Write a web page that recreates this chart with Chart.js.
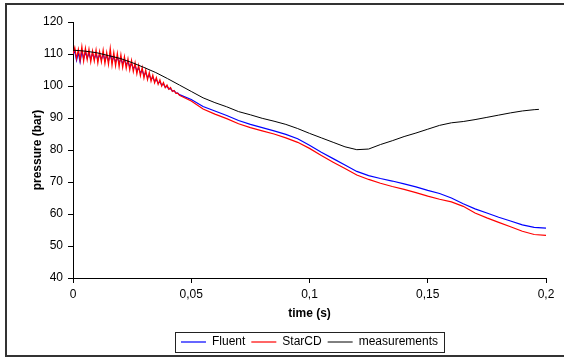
<!DOCTYPE html>
<html>
<head>
<meta charset="utf-8">
<script src="https://cdn.jsdelivr.net/npm/chart.js@4.4.1/dist/chart.umd.min.js"></script>
<style>
    html, body { margin: 0; padding: 0; background: #fff; }
    #wrap { width: 564px; height: 358px; }
</style>
</head>
<body>
<div id="wrap"><canvas id="grafik" width="564" height="358"></canvas></div>
<script>
// waktu simulasi (s)
const simTime = [0, 0.00075, 0.0015, 0.00225, 0.003, 0.00375, 0.0045, 0.00525, 0.006, 0.00675,
    0.0075, 0.00825, 0.009, 0.00975, 0.0105, 0.01125, 0.012, 0.01275, 0.0135, 0.01425,
    0.015, 0.01575, 0.0165, 0.01725, 0.018, 0.01875, 0.0195, 0.02025, 0.021, 0.02175,
    0.0225, 0.02325, 0.024, 0.02475, 0.0255, 0.02625, 0.027, 0.02775, 0.0285, 0.02925,
    0.03, 0.03075, 0.0315, 0.03225, 0.033, 0.03375, 0.0345, 0.03525, 0.036, 0.03675,
    0.0375, 0.03825, 0.039, 0.03975, 0.0405, 0.04125, 0.042, 0.04275, 0.0435, 0.04425, 0.045,
    0.05, 0.055, 0.06, 0.065, 0.07, 0.075, 0.08, 0.085, 0.09, 0.095,
    0.1, 0.105, 0.11, 0.115, 0.12, 0.125, 0.13, 0.135, 0.14, 0.145,
    0.15, 0.155, 0.16, 0.165, 0.17, 0.175, 0.18, 0.185, 0.19, 0.195, 0.2];

const fluent = [110, 110.8, 108, 110.5, 107.5, 110.8, 108.6, 110.5, 108.7, 110.3,
    108.4, 110.2, 108.5, 110, 108.2, 109.8, 108.3, 110, 108, 109.6,
    107.8, 109.8, 107.6, 109.3, 107.4, 109, 107.2, 108.6, 107, 108.2,
    106.6, 107.6, 106, 107, 105.4, 106.3, 104.8, 105.6, 104.1, 104.9,
    103.4, 104.1, 102.7, 103.4, 102.1, 102.7, 101.5, 102, 100.9, 101.3,
    100.3, 100.6, 99.7, 99.9, 99.1, 99.2, 98.5, 98.5, 97.9, 97.8, 97.3,
    95.8, 93.6, 92.2, 90.8, 89.2, 88.0, 87.0, 86.0, 84.9, 83.5,
    81.5, 79.3, 77.3, 75.3, 73.3, 72.0, 71.1, 70.3, 69.4, 68.5,
    67.4, 66.4, 65.0, 63.2, 61.6, 60.3, 59.0, 57.8, 56.6, 55.8, 55.6];

const starcd = [110, 112, 108.5, 111.5, 108, 112.3, 107.8, 111.8, 108.2, 111.5,
    107.5, 111, 107.8, 111.3, 107.2, 110.8, 107.5, 111.2, 107, 110.5,
    106.8, 111.8, 106.5, 110.5, 106.3, 110.2, 106, 109.8, 105.8, 109.2,
    105.5, 108.5, 105, 108, 104.5, 107.3, 103.8, 106.5, 103.2, 105.8,
    102.5, 105, 102, 104.2, 101.5, 103.4, 101, 102.6, 100.5, 101.9,
    100, 101.1, 99.5, 100.3, 99, 99.5, 98.3, 98.6, 97.7, 97.8, 97.1,
    95.3, 92.8, 91.2, 89.8, 88.2, 87.0, 86.0, 85.0, 83.8, 82.4,
    80.5, 78.3, 76.2, 74.2, 72.2, 70.8, 69.6, 68.6, 67.7, 66.7,
    65.6, 64.6, 63.8, 62.4, 60.3, 58.8, 57.4, 56.0, 54.6, 53.6, 53.3];

// data pengukuran
const measTime = [0, 0.005, 0.01, 0.015, 0.02, 0.025, 0.03, 0.035, 0.04, 0.045,
    0.05, 0.055, 0.06, 0.065, 0.07, 0.075, 0.08, 0.085, 0.09, 0.095,
    0.1, 0.105, 0.11, 0.115, 0.12, 0.125, 0.13, 0.135, 0.14, 0.145,
    0.15, 0.155, 0.16, 0.165, 0.17, 0.175, 0.18, 0.185, 0.19, 0.195, 0.197];

const measurements = [111.2, 110.9, 110.4, 109.5, 108.6, 107.3, 105.8, 104.2, 102.3, 100.3,
    98.3, 96.3, 94.8, 93.5, 92.0, 91.0, 89.9, 89.0, 88.0, 86.7,
    85.2, 83.8, 82.4, 81.0, 80.1, 80.3, 81.7, 82.9, 84.2, 85.3,
    86.5, 87.7, 88.5, 88.9, 89.5, 90.2, 90.9, 91.6, 92.2, 92.6, 92.7];

const xTicks = [0, 0.05, 0.1, 0.15, 0.2];
const xTickLabels = ['0', '0,05', '0,1', '0,15', '0,2'];
const yTicks = [40, 50, 60, 70, 80, 90, 100, 110, 120];

function gabung(xs, ys) {
    return xs.map((x, i) => ({ x: x, y: ys[i] }));
}

Chart.defaults.font.family = "'Liberation Sans', Arial, sans-serif";
Chart.defaults.font.size = 12;
Chart.defaults.color = '#000';

// bingkai luar + kotak legenda
const bingkai = {
    id: 'bingkai',
    afterLayout(chart) {
        const lg = chart.legend;
        lg.left = chart.chartArea.left;
        lg.right = chart.chartArea.right;
    },
    afterDraw(chart) {
        const ctx = chart.ctx;
        ctx.save();
        ctx.strokeStyle = '#333';
        ctx.lineWidth = 2;
        ctx.strokeRect(6, 4, 600, 352);

        const boxes = chart.legend.legendHitBoxes;
        if (boxes && boxes.length) {
            const kiri = Math.min(...boxes.map(b => b.left)) - 6;
            const kanan = Math.max(...boxes.map(b => b.left + b.width)) + 6;
            const tengah = boxes[0].top + boxes[0].height / 2;
            ctx.lineWidth = 1;
            ctx.strokeStyle = '#222';
            ctx.strokeRect(Math.round(kiri) + 0.5, Math.round(tengah - 10) + 0.5, Math.round(kanan - kiri), 20);
        }
        ctx.restore();
    }
};

const ctx = document.getElementById('grafik').getContext('2d');
new Chart(ctx, {
    type: 'line',
    data: {
        datasets: [
            {
                label: 'Fluent',
                data: gabung(simTime, fluent),
                borderColor: '#0000ff',
                backgroundColor: '#0000ff',
                borderWidth: 1.2,
                order: 2
            },
            {
                label: 'StarCD',
                data: gabung(simTime, starcd),
                borderColor: '#ff0000',
                backgroundColor: '#ff0000',
                borderWidth: 1.2,
                order: 1
            },
            {
                label: 'measurements',
                data: gabung(measTime, measurements),
                borderColor: '#000000',
                backgroundColor: '#000000',
                borderWidth: 1,
                order: 0
            }
        ]
    },
    options: {
        responsive: false,
        animation: false,
        devicePixelRatio: 1,
        layout: { padding: { left: 0, right: 18, top: 22, bottom: 0 } },
        elements: {
            point: { radius: 0 },
            line: { tension: 0 }
        },
        scales: {
            x: {
                type: 'linear',
                min: 0,
                max: 0.2,
                afterBuildTicks(scale) { scale.ticks = xTicks.map(v => ({ value: v })); },
                afterFit(scale) { scale.height = 52; },
                ticks: {
                    callback: (v, i) => xTickLabels[i],
                    padding: 4,
                    maxRotation: 0,
                    autoSkip: false
                },
                grid: { drawOnChartArea: false, drawTicks: true, tickLength: 5, color: '#000' },
                border: { color: '#000' },
                title: {
                    display: true,
                    text: 'time (s)',
                    font: { weight: 'bold', size: 12 },
                    padding: { top: 0, bottom: 9 }
                }
            },
            y: {
                min: 40,
                max: 120,
                afterBuildTicks(scale) { scale.ticks = yTicks.map(v => ({ value: v })); },
                afterFit(scale) { scale.width = 73; },
                ticks: { padding: 5 },
                grid: { drawOnChartArea: false, drawTicks: true, tickLength: 5, color: '#000' },
                border: { color: '#000' },
                title: {
                    display: true,
                    text: 'pressure (bar)',
                    font: { weight: 'bold', size: 12 },
                    padding: { top: 30, bottom: 0 }
                }
            }
        },
        plugins: {
            tooltip: { enabled: false },
            legend: {
                position: 'bottom',
                labels: {
                    usePointStyle: true,
                    pointStyle: 'line',
                    pointStyleWidth: 25,
                    padding: 6,
                    font: { size: 12 },
                    sort: (a, b) => a.datasetIndex - b.datasetIndex
                }
            }
        }
    },
    plugins: [bingkai]
});
</script>
</body>
</html>
